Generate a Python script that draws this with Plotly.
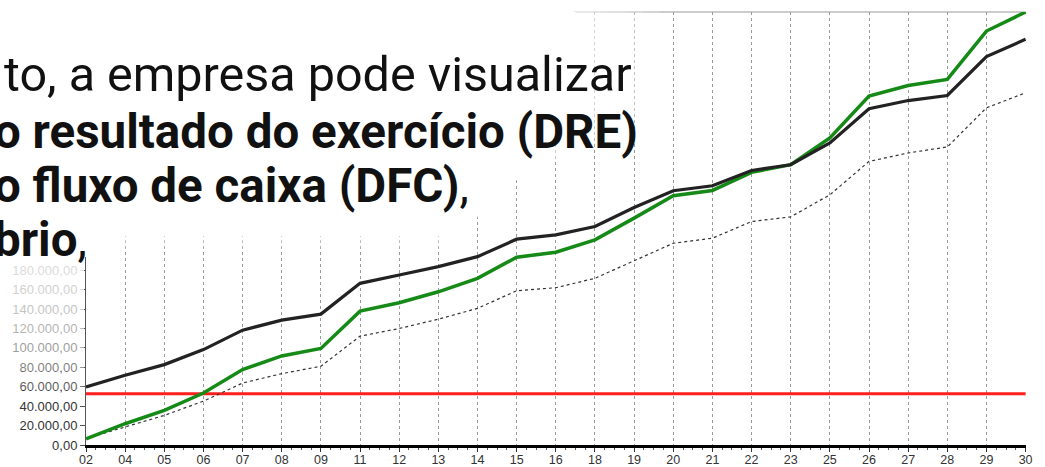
import plotly.graph_objects as go

# ---------------- data ----------------
days = ["02", "04", "05", "06", "07", "08", "09", "11", "12", "13", "14", "15", "16",
        "18", "19", "20", "21", "22", "23", "25", "26", "27", "28", "29", "30"]

black_series = [59700, 71800, 82800, 98300, 118300, 128600, 134800, 166500, 175100,
                183700, 194000, 212000, 216400, 225000, 244600, 261900, 267000,
                282800, 288700, 311100, 346300, 354800, 360000, 400000, 417900]

green_series = [6400, 21900, 35600, 53500, 77700, 91700, 99400, 137900, 146500,
                157800, 171700, 193400, 198500, 211300, 233700, 256700, 262200,
                280800, 288700, 316300, 359300, 370300, 376500, 426400, 446000]

dashed_series = [6700, 18400, 30500, 45200, 63800, 73500, 81100, 112100, 120000,
                 129600, 140700, 158900, 162000, 171700, 189900, 207800, 213000,
                 230200, 235000, 257700, 292100, 300800, 307000, 347300, 362800]

limit_value = 52900

y_tick_values = list(range(0, 440001, 20000))

text_lines = [
    "to, a empresa pode visualizar",
    "<b>o resultado do exercício (DRE)</b>",
    "<b>o fluxo de caixa (DFC)</b>,",
    "<b>brio</b>,",
]

# ---------------- layout geometry ----------------
W, H = 1045, 467
ML, MR, MT, MB = 86, 19, 12, 22
PW, PH = W - ML - MR, H - MT - MB


def px(x):
    return (x - ML) / PW


def py(y):
    return (H - MB - y) / PH


idx = list(range(len(days)))

fig = go.Figure()

fig.add_trace(go.Scatter(x=idx, y=[limit_value] * len(days), mode="lines",
                         line=dict(color="#ff1e1e", width=3), hoverinfo="skip"))
fig.add_trace(go.Scatter(x=idx, y=dashed_series, mode="lines",
                         line=dict(color="#333333", width=1.2, dash="3px,3px")))
fig.add_trace(go.Scatter(x=idx, y=green_series, mode="lines",
                         line=dict(color="#168a16", width=3.5)))
fig.add_trace(go.Scatter(x=idx, y=black_series, mode="lines",
                         line=dict(color="#222222", width=3.2)))

shapes = []
# top border of plot area
shapes.append(dict(type="line", xref="paper", yref="paper", x0=0, x1=1, y0=1, y1=1,
                   line=dict(color="#9a9a9a", width=1), layer="below"))


def poly(points):
    return "M " + " L ".join(f"{px(a):.4f},{py(b):.4f}" for a, b in points) + " Z"


def white(points, op):
    shapes.append(dict(type="path", xref="paper", yref="paper", path=poly(points),
                       fillcolor="white", line=dict(width=0), layer="above", opacity=op))


# solid white region behind the text
white([(-100, -50), (460, -50), (590, 20), (590, 90), (540, 160), (480, 212),
       (468, 236), (92, 236), (92, 257), (-100, 257)], 1)
# fade to the right of the text
for k in range(1, 6):
    d = k * 16
    white([(460, -50), (460 + d * 1.5, -50), (590 + d, 20), (590 + d, 90 + d * 0.4),
           (540 + d * 0.3, 160), (540, 160), (590, 90), (590, 20)], 0.16)
# fade below the text band inside the plot (soft edge)
for k in range(1, 4):
    white([(92, 236), (468, 236), (468, 236 + k * 5), (92, 236 + k * 5)], 0.2)
# strong fade over the y tick labels
for k in range(1, 8):
    white([(-100, 257), (84, 257), (84, 257 + k * 19), (-100, 257 + k * 19)], 0.22)

annotations = []
line_x = [2, -8, -8, -8]
line_y = [75, 132, 186, 240]
line_size = [48.5, 47.5, 47.5, 47.5]
for t, xx, yy, fs in zip(text_lines, line_x, line_y, line_size):
    annotations.append(dict(text=t, xref="paper", yref="paper", x=px(xx), y=py(yy),
                            xanchor="left", yanchor="middle", showarrow=False,
                            font=dict(family="Roboto", size=fs, color="#111111")))

fig.update_layout(
    width=W, height=H,
    margin=dict(l=ML, r=MR, t=MT, b=MB, autoexpand=False),
    paper_bgcolor="white", plot_bgcolor="white",
    showlegend=False,
    separators=",.",
    shapes=shapes,
    annotations=annotations,
    xaxis=dict(
        automargin=False,
        range=[0, len(days) - 1 + 0.01],
        tickmode="array", tickvals=idx, ticktext=days,
        showgrid=True, gridcolor="#9a9a9a", gridwidth=1, griddash="3px,3px",
        showline=True, linecolor="black", linewidth=2.5,
        ticks="outside", ticklen=4, tickcolor="#333", tickwidth=1,
        ticklabelstandoff=-3,
        minor=dict(ticks="outside", ticklen=2, tickcolor="#555", dtick=0.25, showgrid=False),
        tickfont=dict(family="Arial", size=12.5, color="#333333"),
        zeroline=False, fixedrange=True,
    ),
    yaxis=dict(
        automargin=False,
        range=[0, 446000],
        tickmode="array", tickvals=y_tick_values, tickformat=",.2f",
        showgrid=False,
        showline=True, linecolor="#555555", linewidth=1,
        ticks="outside", ticklen=5, tickcolor="#555", tickwidth=1,
        tickfont=dict(family="Arial", size=13, color="#333333"),
        zeroline=False, fixedrange=True,
    ),
)

fig.write_html("out.html", config={"displayModeBar": False},
               post_script="document.body.style.margin='0px';document.body.style.overflow='hidden';")
